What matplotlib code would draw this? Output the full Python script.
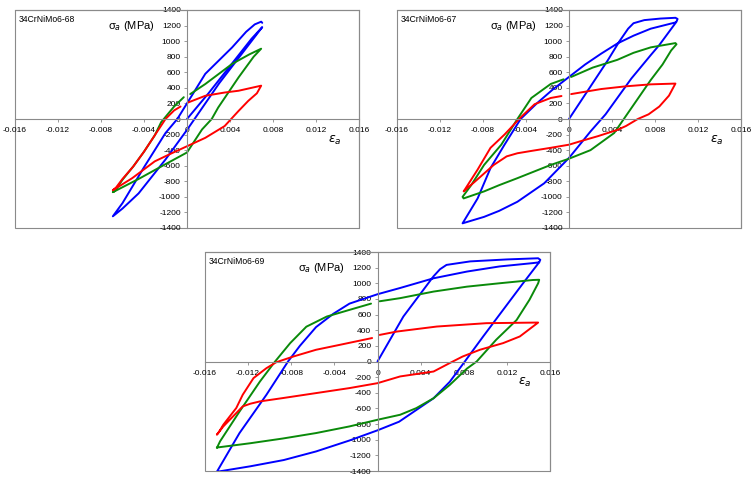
import matplotlib
matplotlib.use('Agg')
import matplotlib.pyplot as plt
from matplotlib.patches import Rectangle

plt.rcParams['font.family'] = ['Liberation Sans', 'DejaVu Sans']
plt.rcParams['mathtext.fontset'] = 'dejavusans'

titles = ['34CrNiMo6-68', '34CrNiMo6-67', '34CrNiMo6-69']
x_ticks = [-0.016, -0.012, -0.008, -0.004, 0, 0.004, 0.008, 0.012, 0.016]
x_tick_labels = ['-0.016', '-0.012', '-0.008', '-0.004', '0', '0.004', '0.008', '0.012', '0.016']
y_ticks = [-1400, -1200, -1000, -800, -600, -400, -200, 0, 200, 400, 600, 800, 1000, 1200, 1400]
y_tick_labels = [str(v) for v in y_ticks]

# ---------------- 34CrNiMo6-68 ----------------
blue68_eps = [0, 0.002, 0.004, 0.006, 0.007, 0.006, 0.005, 0.003, 0.0012, 0, -0.002, -0.0045, -0.006, -0.0069,
              -0.006, -0.004, -0.002, -0.0009, 0.0017, 0.0042, 0.0055, 0.0063, 0.0069, 0.007]
blue68_sig = [0, 330, 680, 1030, 1180, 1000, 820, 460, 100, -140, -520, -955, -1150, -1250,
              -1080, -620, -180, 0, 580, 920, 1120, 1215, 1250, 1235]
green68_eps = [0.0003, 0.0017, 0.0042, 0.0058, 0.0069, 0.0062, 0.0048, 0.0029, 0.0023, 0.0014, 0, -0.002,
               -0.0045, -0.0069, -0.0067, -0.006, -0.005, -0.004, -0.003, -0.0024, -0.0012, -0.0003]
green68_sig = [320, 449, 708, 830, 903, 800, 535, 147, 0, -134, -430, -580,
               -770, -940, -925, -780, -610, -420, -210, -40, 160, 280]
red68_eps = [0.0001, 0.0017, 0.0035, 0.0048, 0.0069, 0.0065, 0.0057, 0.0048, 0.0035, 0.0017, 0, -0.0015,
             -0.003, -0.0051, -0.0069, -0.0066, -0.006, -0.005, -0.004, -0.003, -0.002, -0.0012, -0.0006]
red68_sig = [212, 298, 340, 363, 428, 330, 233, 104, -91, -242, -350, -445,
             -544, -760, -915, -880, -770, -610, -420, -210, 0, 110, 160]

# ---------------- 34CrNiMo6-67 ----------------
blue67_eps = [0, 0.0036, 0.0047, 0.0055, 0.006, 0.007, 0.0085, 0.0099, 0.0101,
              0.0100, 0.0084, 0.0076, 0.0058, 0.0034, 0.002, 0, -0.0023, -0.0048, -0.0065, -0.0079, -0.0099,
              -0.0085, -0.0073, -0.006, -0.0045, -0.003, -0.0015, 0, 0.0015, 0.003, 0.0045, 0.006,
              0.0076, 0.0099]
blue67_sig = [0, 752, 1000, 1160, 1230, 1270, 1290, 1300, 1285,
              1250, 950, 820, 520, 60, -160, -500, -825, -1063, -1180, -1257, -1340,
              -1020, -630, -330, 0, 200, 380, 540, 700, 840, 970, 1070,
              1160, 1240]
green67_eps = [0.0002, 0.0022, 0.0045, 0.006, 0.0076, 0.0099, 0.0100, 0.0095, 0.0087, 0.0076, 0.0064, 0.0052,
               0.0042, 0.002, 0, -0.0017, -0.0048, -0.0065, -0.0079, -0.0098, -0.0099, -0.0091, -0.0079,
               -0.0063, -0.0048, -0.0035, -0.0017, -0.0005]
green67_sig = [540, 660, 760, 850, 920, 975, 960, 880, 700, 500, 260, 20,
               -180, -400, -510, -590, -760, -850, -930, -1020, -1000, -850, -590,
               -330, 0, 270, 450, 510]
red67_eps = [0.0002, 0.003, 0.0053, 0.0076, 0.0099, 0.0093, 0.0084, 0.0074, 0.0064, 0.0053, 0.0045,
             0.0027, 0.0012, 0, -0.0017, -0.0035, -0.0048, -0.0058, -0.007, -0.0079, -0.0088, -0.0094,
             -0.0098, -0.0085, -0.0073, -0.006, -0.0045, -0.0032, -0.0017, -0.0007]
red67_sig = [320, 385, 420, 445, 455, 300, 160, 60, 0, -90, -140,
             -220, -280, -330, -370, -410, -440, -480, -590, -700, -810, -880,
             -930, -650, -370, -200, 20, 190, 270, 295]

# ---------------- 34CrNiMo6-69 ----------------
blue69_eps = [0, 0.0024, 0.0052, 0.0058, 0.0064, 0.0086, 0.012, 0.0149, 0.0151,
              0.0150, 0.0135, 0.01165, 0.0098, 0.0081, 0.0067, 0.0052, 0.0036, 0.002, 0, -0.0026, -0.0057,
              -0.0087, -0.0118, -0.0149,
              -0.0128, -0.0103, -0.0083, -0.0072, -0.0057, -0.0041, -0.0026, 0, 0.0021, 0.0052,
              0.0083, 0.0113, 0.0144, 0.015]
blue69_sig = [0, 575, 1090, 1180, 1235, 1280, 1305, 1320, 1300,
              1270, 1000, 660, 320, 0, -260, -470, -620, -770, -880, -1010, -1150,
              -1260, -1340, -1410,
              -915, -425, 0, 200, 440, 610, 740, 860, 940, 1064,
              1150, 1215, 1258, 1268]
green69_eps = [0.0002, 0.0021, 0.0052, 0.0083, 0.0113, 0.0144, 0.0150, 0.0149, 0.0141, 0.0129, 0.011,
               0.0092, 0.0083, 0.0067, 0.0052, 0.0036, 0.0021, 0, -0.0026, -0.0057, -0.0088, -0.0118,
               -0.0149, -0.0149, -0.0146, -0.0128, -0.0109, -0.0095, -0.0081, -0.0066, -0.0047, -0.0026,
               -0.0006]
green69_sig = [770, 810, 894, 957, 1000, 1042, 1045, 1000, 790, 530, 277,
               0, -90, -300, -470, -596, -681, -745, -830, -915, -985, -1045,
               -1100, -1106, -1020, -640, -255, 0, 235, 445, 575, 660,
               740]
red69_eps = [0.0002, 0.0018, 0.0055, 0.0101, 0.0149, 0.0132, 0.01165, 0.0095, 0.0079, 0.0067, 0.0052,
             0.0021, 0, -0.0026, -0.0057, -0.0088, -0.0109, -0.0118, -0.0125, -0.0134, -0.0143, -0.0149,
             -0.0147, -0.0143, -0.0131, -0.0125, -0.0115, -0.0103, -0.0094, -0.0078, -0.0057,
             -0.0035, -0.0005]
red69_sig = [340, 383, 447, 490, 498, 320, 235, 150, 64, -20, -128,
             -191, -277, -340, -404, -468, -510, -540, -574, -702, -830, -936,
             -900, -808, -595, -425, -212, -85, -10, 64, 150,
             213, 300]

panels = [
    (titles[0], [(blue68_eps, blue68_sig), (green68_eps, green68_sig), (red68_eps, red68_sig)]),
    (titles[1], [(blue67_eps, blue67_sig), (green67_eps, green67_sig), (red67_eps, red67_sig)]),
    (titles[2], [(blue69_eps, blue69_sig), (green69_eps, green69_sig), (red69_eps, red69_sig)]),
]
colors = ['#0000FF', '#0A8A0A', '#FF0000']

W, H = 755, 478
rects_px = [(15, 10, 344, 218), (397, 10, 344, 218), (205, 252, 345, 219)]

fig = plt.figure(figsize=(W / 100, H / 100), dpi=100)
axis_col = '#8a8a8a'

for (title, series), (px, py, pw, ph) in zip(panels, rects_px):
    ax = fig.add_axes([px / W, 1 - (py + ph) / H, pw / W, ph / H])
    for (e, s), c in zip(series, colors):
        ax.plot(e, s, color=c, lw=1.4, solid_joinstyle='round', solid_capstyle='round', zorder=2)
    ax.set_xlim(-0.016, 0.016)
    ax.set_ylim(-1400, 1400)
    ax.spines['left'].set_position(('data', 0))
    ax.spines['bottom'].set_position(('data', 0))
    for sp in ['left', 'bottom', 'top', 'right']:
        ax.spines[sp].set_color(axis_col)
        ax.spines[sp].set_linewidth(0.8)
    ax.add_patch(Rectangle((0, 0), 1, 1, transform=ax.transAxes, fill=False,
                           edgecolor=axis_col, lw=0.8, clip_on=False, zorder=1))
    ax.set_xticks(x_ticks)
    ax.set_xticklabels(x_tick_labels)
    ax.set_yticks(y_ticks)
    ax.set_yticklabels(y_tick_labels)
    ax.tick_params(axis='both', direction='out', length=2, width=0.6, color=axis_col,
                   labelsize=6, pad=2.5, labelcolor='black')
    ax.tick_params(axis='x', pad=4)
    ax.patch.set_alpha(0)
    ax.text(0.012, 0.975, title, transform=ax.transAxes, ha='left', va='top', fontsize=6.2)
    ax.text(-0.0030, 1190, 'σ$_a$ (MPa)', ha='right', va='center', fontsize=8)
    ax.text(0.0137, -270, r'$\varepsilon_a$', ha='center', va='center', fontsize=9)

fig.savefig('out.png', dpi=100)
